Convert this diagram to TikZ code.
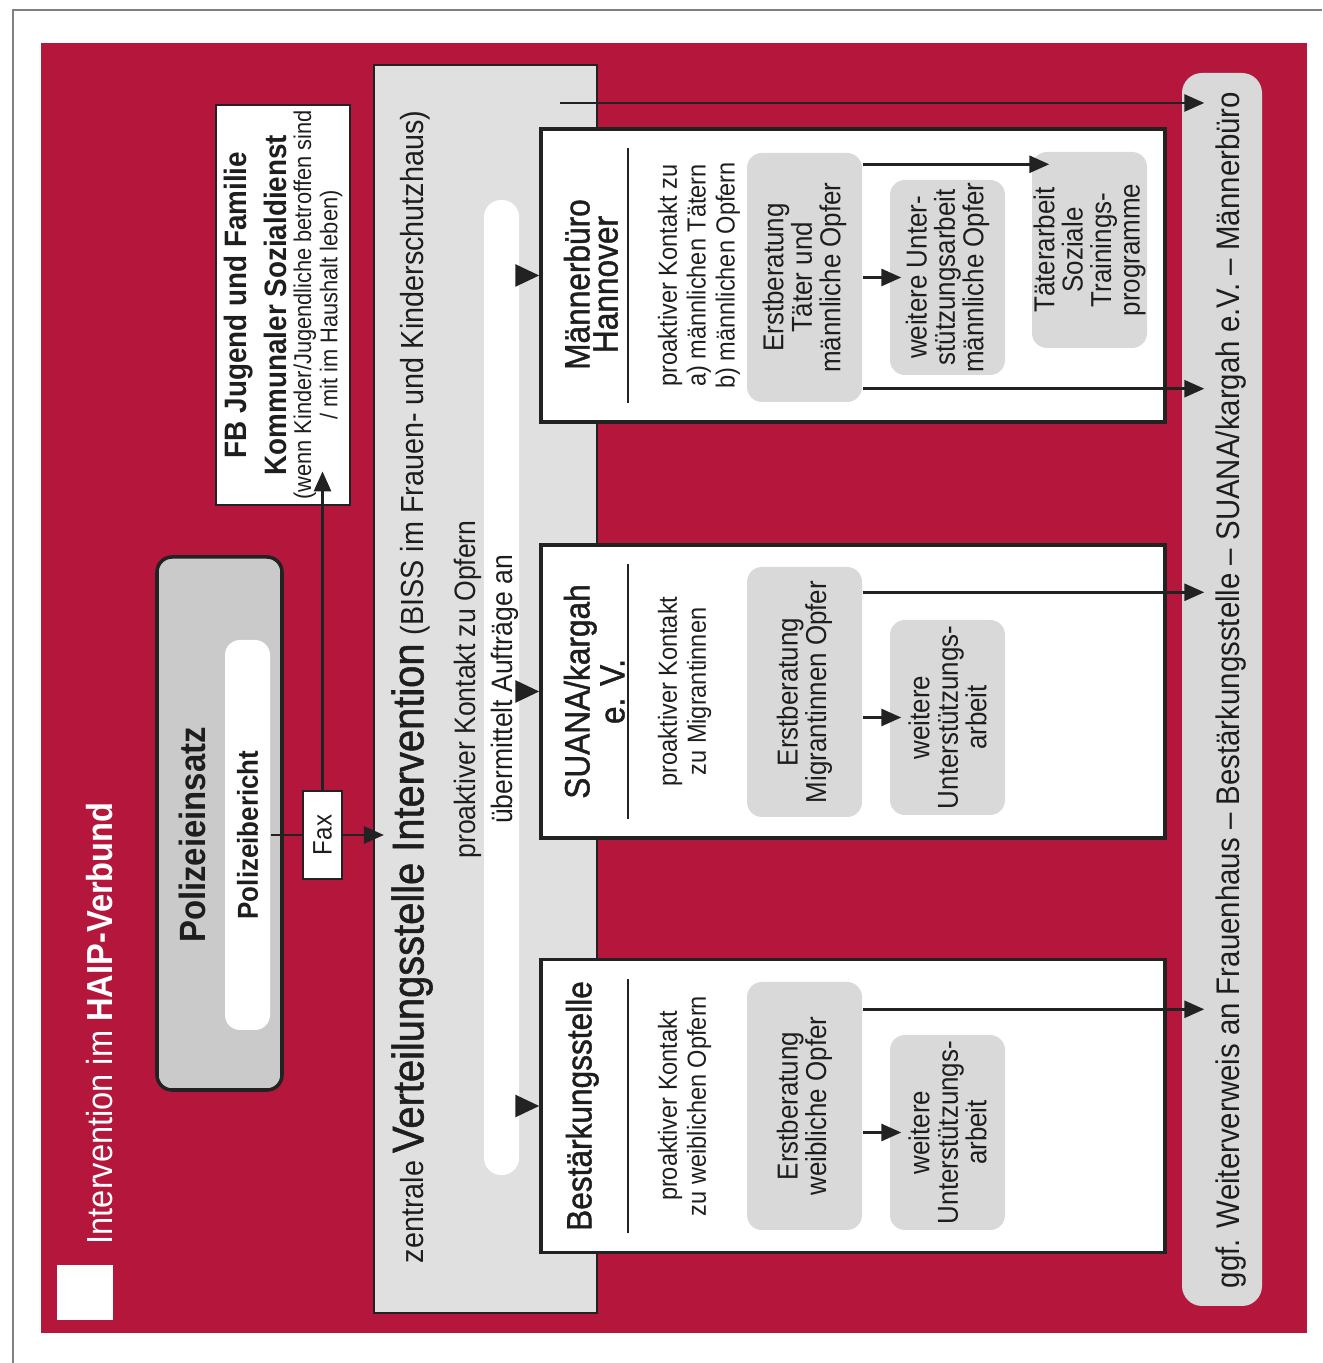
\documentclass[tikz,border=0pt]{standalone}
\usepackage{fontspec}
\setmainfont{Liberation Sans}[FakeStretch=0.9]
\newfontfamily\mediumfont{Liberation Sans}[FakeStretch=0.9,FakeBold=1.2]
\usetikzlibrary{arrows.meta,calc}
\definecolor{haipRed}{RGB}{181,22,59}
\definecolor{panelGray}{RGB}{224,224,224}
\definecolor{stepGray}{RGB}{217,217,217}
\definecolor{policeGray}{RGB}{202,202,202}
\definecolor{lineGray}{RGB}{34,34,34}
\definecolor{textGray}{RGB}{30,30,30}
\newcommand{\fsize}[2]{\fontsize{#1}{#2}\selectfont}

\begin{document}
\begin{tikzpicture}[%%
  arrowStyle/.style={-{Triangle[length=0.2cm,width=0.17cm]},line width=0.8pt,draw=lineGray},%%
  feedStyle/.style={-{Triangle[length=0.24cm,width=0.22cm]},line width=0.8pt,draw=lineGray},%%
  lineStyle/.style={-,line width=0.8pt,draw=lineGray},%%
  orgStyle/.style={draw=lineGray,line width=1pt,fill=white,inner sep=0pt,minimum width=6.24cm,minimum height=2.93cm},%%
  stepStyle/.style={fill=stepGray,rounded corners=0.15cm,inner sep=0pt,minimum width=1.15cm},%%
  textStyle/.style={rotate=90,inner sep=0pt,align=center,text=textGray}%%
]
%%
%%
\pgfmathsetmacro{\orgX}{8.53}    %% the middle of the three partner boxes
\pgfmathsetmacro{\dline}{0.89}   %% the gap between box edge and rule
\pgfmathsetmacro{\dtip}{0.23}    %% how far the arrows run into the last box
%%
\useasboundingbox (0,0) rectangle (13.22,13.63);
%%
%% Frame and red background.
\draw[gray,line width=0.6pt] (0.13,0) -- (0.13,13.53) -- (13.22,13.53);
\fill[haipRed] (0.41,0.30) rectangle (13.07,13.20);
\fill[white] (0.57,0.43) rectangle (1.13,0.98);
\node[textStyle,anchor=west,text=white,font=\fsize{10.3}{12}] (title) at (1.00,1.18)
  {Intervention im \textbf{HAIP-Verbund}};
%%
%% The central column.
\node[draw=lineGray,line width=0.6pt,fill=panelGray,inner sep=0pt,
  minimum width=2.23cm,minimum height=12.48cm] (biss) at (4.855,6.74) {};
\node[fill=white,rounded corners=0.17cm,inner sep=0pt,
  minimum width=0.35cm,minimum height=9.75cm] (strip) at (5.015,6.755) {};
\node[textStyle] (bissTitle) at (4.12,6.76)
  {{\fsize{9.1}{11}zentrale }{\mediumfont\fsize{12.6}{14}Verteilungsstelle Intervention}{\fsize{9.1}{11} (BISS im Frauen- und Kinderschutzhaus)}};
\node[textStyle,font=\fsize{8.4}{10.5}] (bissNote) at (4.865,6.735)
  {proaktiver Kontakt zu Opfern\\übermittelt Aufträge an};
%%
%% Police and report.
\node[draw=lineGray,line width=1pt,fill=policeGray,rounded corners=0.15cm,inner sep=0pt,
  minimum width=1.25cm,minimum height=5.33cm] (polizei) at (2.195,5.395) {};
\node[textStyle,font=\bfseries\fsize{10.4}{12}] (polizeiTitle) at (1.92,5.28) {Polizeieinsatz};
\node[fill=white,rounded corners=0.15cm,inner sep=0pt,
  minimum width=0.45cm,minimum height=3.90cm] (bericht) at (2.475,5.28) {};
\node[textStyle,font=\bfseries\fsize{8.2}{10}] (berichtText) at (bericht) {Polizeibericht};
\node[draw=lineGray,line width=0.6pt,fill=white,inner sep=0pt,
  minimum width=0.39cm,minimum height=0.88cm] (fax) at (3.225,5.28) {};
\node[textStyle,font=\fsize{7.6}{9}] (faxText) at (fax) {Fax};
%%
%% Youth office.
\node[draw=lineGray,line width=0.8pt,fill=white,inner sep=0pt,
  minimum width=1.34cm,minimum height=4.00cm] (fb) at (2.83,10.58) {};
\node[textStyle,font=\fsize{6.9}{6.3}] (fbText) at (fb)
  {{\bfseries\fsize{8.8}{8}FB Jugend und Familie}\\[2.2pt]
   {\bfseries\fsize{8.8}{8}Kommunaler Sozialdienst}\\[0.8pt]
   (wenn Kinder/Jugendliche betroffen sind\\
   / mit im Haushalt leben)};
%%
%% Report goes by fax.
\draw[lineStyle] (bericht.east) -- (fax.west);
\draw[arrowStyle,shorten >=-0.11cm] (fax.east) -- (fax.east -| biss.west);
\draw[arrowStyle,shorten >=-0.35cm] (fax.north) -- (fax.north |- fb.south);
%%
%% The three partner boxes.
\node[orgStyle] (mb) at (\orgX,10.875) {};
\node[orgStyle] (su) at (\orgX,6.715) {};
\node[orgStyle] (bs) at (\orgX,2.57) {};
\foreach \org in {mb,su,bs}{
  \draw[-,line width=0.6pt,draw=lineGray] ($(\org.south west)+(\dline,0.21)$) -- ($(\org.north west)+(\dline,-0.21)$);
  \draw[feedStyle] (strip.east |- \org.west) -- (\org.west);
}
\node[textStyle,anchor=north,font=\mediumfont\fsize{10}{8}] (mbTitle) at ($(mb.west)+(0.24,-0.09)$) {Männerbüro\\Hannover};
\node[textStyle,anchor=north,font=\mediumfont\fsize{10}{8}] (suTitle) at ($(su.west)+(0.24,0)$) {SUANA/kargah\\e. V.};
\node[textStyle,anchor=north,font=\mediumfont\fsize{10}{8}] (bsTitle) at ($(bs.west)+(0.26,0)$) {Bestärkungsstelle};
\node[textStyle,anchor=north,font=\fsize{7.45}{8.2}] (mbNote) at ($(mb.west)+(1.18,0)$)
  {proaktiver Kontakt zu\\a) männlichen Tätern\\b) männlichen Opfern};
\node[textStyle,anchor=north,font=\fsize{7.45}{8.2}] (suNote) at ($(su.west)+(1.18,0)$)
  {proaktiver Kontakt\\zu Migrantinnen};
\node[textStyle,anchor=north,font=\fsize{7.45}{8.2}] (bsNote) at ($(bs.west)+(1.18,0)$)
  {proaktiver Kontakt\\zu weiblichen Opfern};
%%
%% Counselling steps inside the boxes.
\foreach \nm/\x/\y/\h/\txt in {%
  mbE/8.045/10.855/2.49/{Erstberatung\\Täter und\\männliche Opfer},
  mbW/9.475/10.855/1.95/{weitere Unter-\\stützungsarbeit\\männliche Opfer},
  mbT/10.895/11.13/1.96/{Täterarbeit\\Soziale\\Trainings-\\programme},
  suE/8.045/6.71/2.50/{Erstberatung\\Migrantinnen Opfer},
  suW/9.475/6.455/1.95/{weitere\\Unterstützungs-\\arbeit},
  bsE/8.045/2.57/2.48/{Erstberatung\\weibliche Opfer},
  bsW/9.475/2.305/1.95/{weitere\\Unterstützungs-\\arbeit}}{
  \node[stepStyle,minimum height=\h cm] (\nm) at (\x,\y) {};
  \node[textStyle,font=\fsize{8.2}{8.1}] (\nm Text) at (\nm) {\txt};
}
%%
%% Referral column on the right.
\node[fill=stepGray,rounded corners=0.2cm,inner sep=0pt,
  minimum width=0.80cm,minimum height=12.33cm] (weiter) at (12.22,6.735) {};
\node[textStyle,font=\fsize{9.3}{11}] (weiterText) at (12.31,6.73)
  {ggf. Weiterverweis an Frauenhaus -- Bestärkungsstelle -- SUANA/kargah e.V. -- Männerbüro};
%%
%% Arrows between the steps.
\draw[arrowStyle,shorten >=-0.12cm] (mbE.east |- mbW.west) -- (mbW.west);
\draw[arrowStyle,shorten >=-0.12cm] (suE.east |- suW.west) -- (suW.west);
\draw[arrowStyle,shorten >=-0.12cm] (bsE.east |- bsW.west) -- (bsW.west);
\draw[arrowStyle,shorten >=-0.18cm] ($(mbE.north east)+(0,-0.12)$) coordinate (mbTop) -- (mbTop -| mbT.west);
%%
%% Arrows out to the referral column.
\coordinate (bissOut) at (5.60,12.60);
\draw[arrowStyle,shorten >=-\dtip cm] (bissOut) -- (bissOut -| weiter.west);
\draw[arrowStyle,shorten >=-\dtip cm] ($(mbE.south east)+(0,0.14)$) coordinate (mbLow) -- (mbLow -| weiter.west);
\draw[arrowStyle,shorten >=-\dtip cm] ($(suE.north east)+(0,-0.26)$) coordinate (suOut) -- (suOut -| weiter.west);
\draw[arrowStyle,shorten >=-\dtip cm] ($(bsE.north east)+(0,-0.28)$) coordinate (bsOut) -- (bsOut -| weiter.west);
\end{tikzpicture}
\end{document}
